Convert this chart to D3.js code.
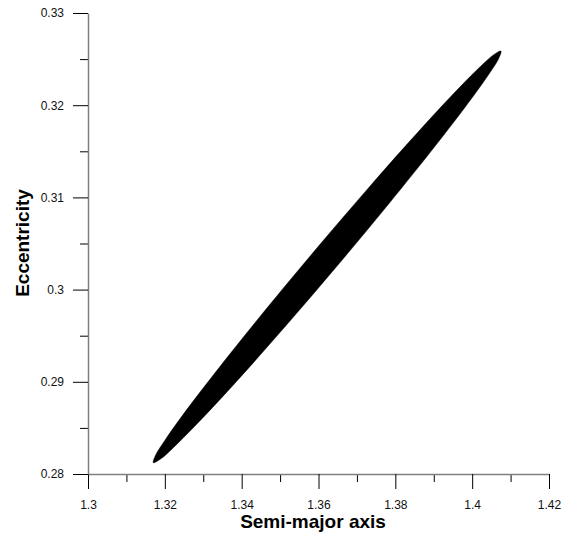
<!DOCTYPE html>
<html>
<head>
<meta charset="utf-8">
<script src="https://cdn.jsdelivr.net/npm/d3@7"></script>
<style>
  html, body { margin: 0; padding: 0; background: #fff; }
  svg { display: block; }
</style>
</head>
<body>
<svg id="chart" width="578" height="538"></svg>
<script>
// ---- data ----
const xDomain = [1.30, 1.42];
const yDomain = [0.28, 0.33];
const xMajorTicks = [1.30, 1.32, 1.34, 1.36, 1.38, 1.40, 1.42];
const xTickLabels = ["1.3", "1.32", "1.34", "1.36", "1.38", "1.4", "1.42"];
const xMinorTicks = [1.31, 1.33, 1.35, 1.37, 1.39, 1.41];
const yMajorTicks = [0.28, 0.29, 0.30, 0.31, 0.32, 0.33];
const yTickLabels = ["0.28", "0.29", "0.3", "0.31", "0.32", "0.33"];
const yMinorTicks = [0.285, 0.295, 0.305, 0.315, 0.325];
// outline of the filled region (semi-major axis, eccentricity)
const regionA = [1.40750, 1.40688, 1.40451, 1.39998, 1.39128, 1.37825, 1.36494, 1.35138,
                 1.33754, 1.32776, 1.32222, 1.31888, 1.31699, 1.31762, 1.31999, 1.32452,
                 1.33322, 1.34625, 1.35957, 1.37312, 1.38696, 1.39674, 1.40228, 1.40563];
const regionE = [0.32588, 0.32504, 0.32346, 0.32080, 0.31605, 0.30928, 0.30261, 0.29602,
                 0.28953, 0.28517, 0.28286, 0.28162, 0.28122, 0.28206, 0.28364, 0.28631,
                 0.29105, 0.29783, 0.30450, 0.31108, 0.31757, 0.32194, 0.32425, 0.32548];
const xTitle = "Semi-major axis";
const yTitle = "Eccentricity";

// ---- layout ----
const mLeft = 88, mRight = 549, mTop = 13, mBottom = 474;
const svg = d3.select("#chart");
const x = d3.scaleLinear().domain(xDomain).range([mLeft, mRight]);
const y = d3.scaleLinear().domain(yDomain).range([mBottom, mTop]);

const font = "Arial, 'Liberation Sans', Helvetica, sans-serif";

// region
const pts = regionA.map((a, i) => [a, regionE[i]]);
svg.append("path")
  .datum(pts)
  .attr("d", d3.line().x(d => x(d[0])).y(d => y(d[1])).curve(d3.curveCatmullRomClosed.alpha(0.5)))
  .attr("fill", "#000")
  .attr("stroke", "#000")
  .attr("stroke-width", 0.5);

// axes
function styleAxis(g) {
  g.selectAll(".domain").attr("stroke", "#808080").attr("stroke-width", 1.5);
  g.selectAll(".tick line").attr("stroke", "#000").attr("stroke-width", 1);
  g.selectAll(".tick text").attr("fill", "#111").style("font-family", font).style("font-size", "12px");
}

const xMinor = svg.append("g").attr("transform", `translate(0,${mBottom})`)
  .call(d3.axisBottom(x).tickValues(xMinorTicks).tickSize(8).tickSizeOuter(0).tickFormat(""));
xMinor.select(".domain").remove();
xMinor.selectAll(".tick line").attr("stroke", "#000");

const yMinor = svg.append("g").attr("transform", `translate(${mLeft},0)`)
  .call(d3.axisLeft(y).tickValues(yMinorTicks).tickSize(8).tickSizeOuter(0).tickFormat(""));
yMinor.select(".domain").remove();
yMinor.selectAll(".tick line").attr("stroke", "#000");

const xAxis = svg.append("g").attr("transform", `translate(0,${mBottom})`)
  .call(d3.axisBottom(x).tickValues(xMajorTicks).tickSize(15).tickSizeOuter(0).tickPadding(11)
    .tickFormat((d, i) => xTickLabels[i]));
styleAxis(xAxis);

const yAxis = svg.append("g").attr("transform", `translate(${mLeft},0)`)
  .call(d3.axisLeft(y).tickValues(yMajorTicks).tickSize(15).tickSizeOuter(0).tickPadding(9)
    .tickFormat((d, i) => yTickLabels[i]));
styleAxis(yAxis);

// titles
svg.append("text")
  .attr("x", 313).attr("y", 528)
  .attr("text-anchor", "middle")
  .style("font-family", font).style("font-size", "19px").style("font-weight", "bold")
  .attr("fill", "#000")
  .text(xTitle);

svg.append("text")
  .attr("transform", `translate(29,243) rotate(-90)`)
  .attr("text-anchor", "middle")
  .style("font-family", font).style("font-size", "19px").style("font-weight", "bold")
  .attr("fill", "#000")
  .text(yTitle);
</script>
</body>
</html>
